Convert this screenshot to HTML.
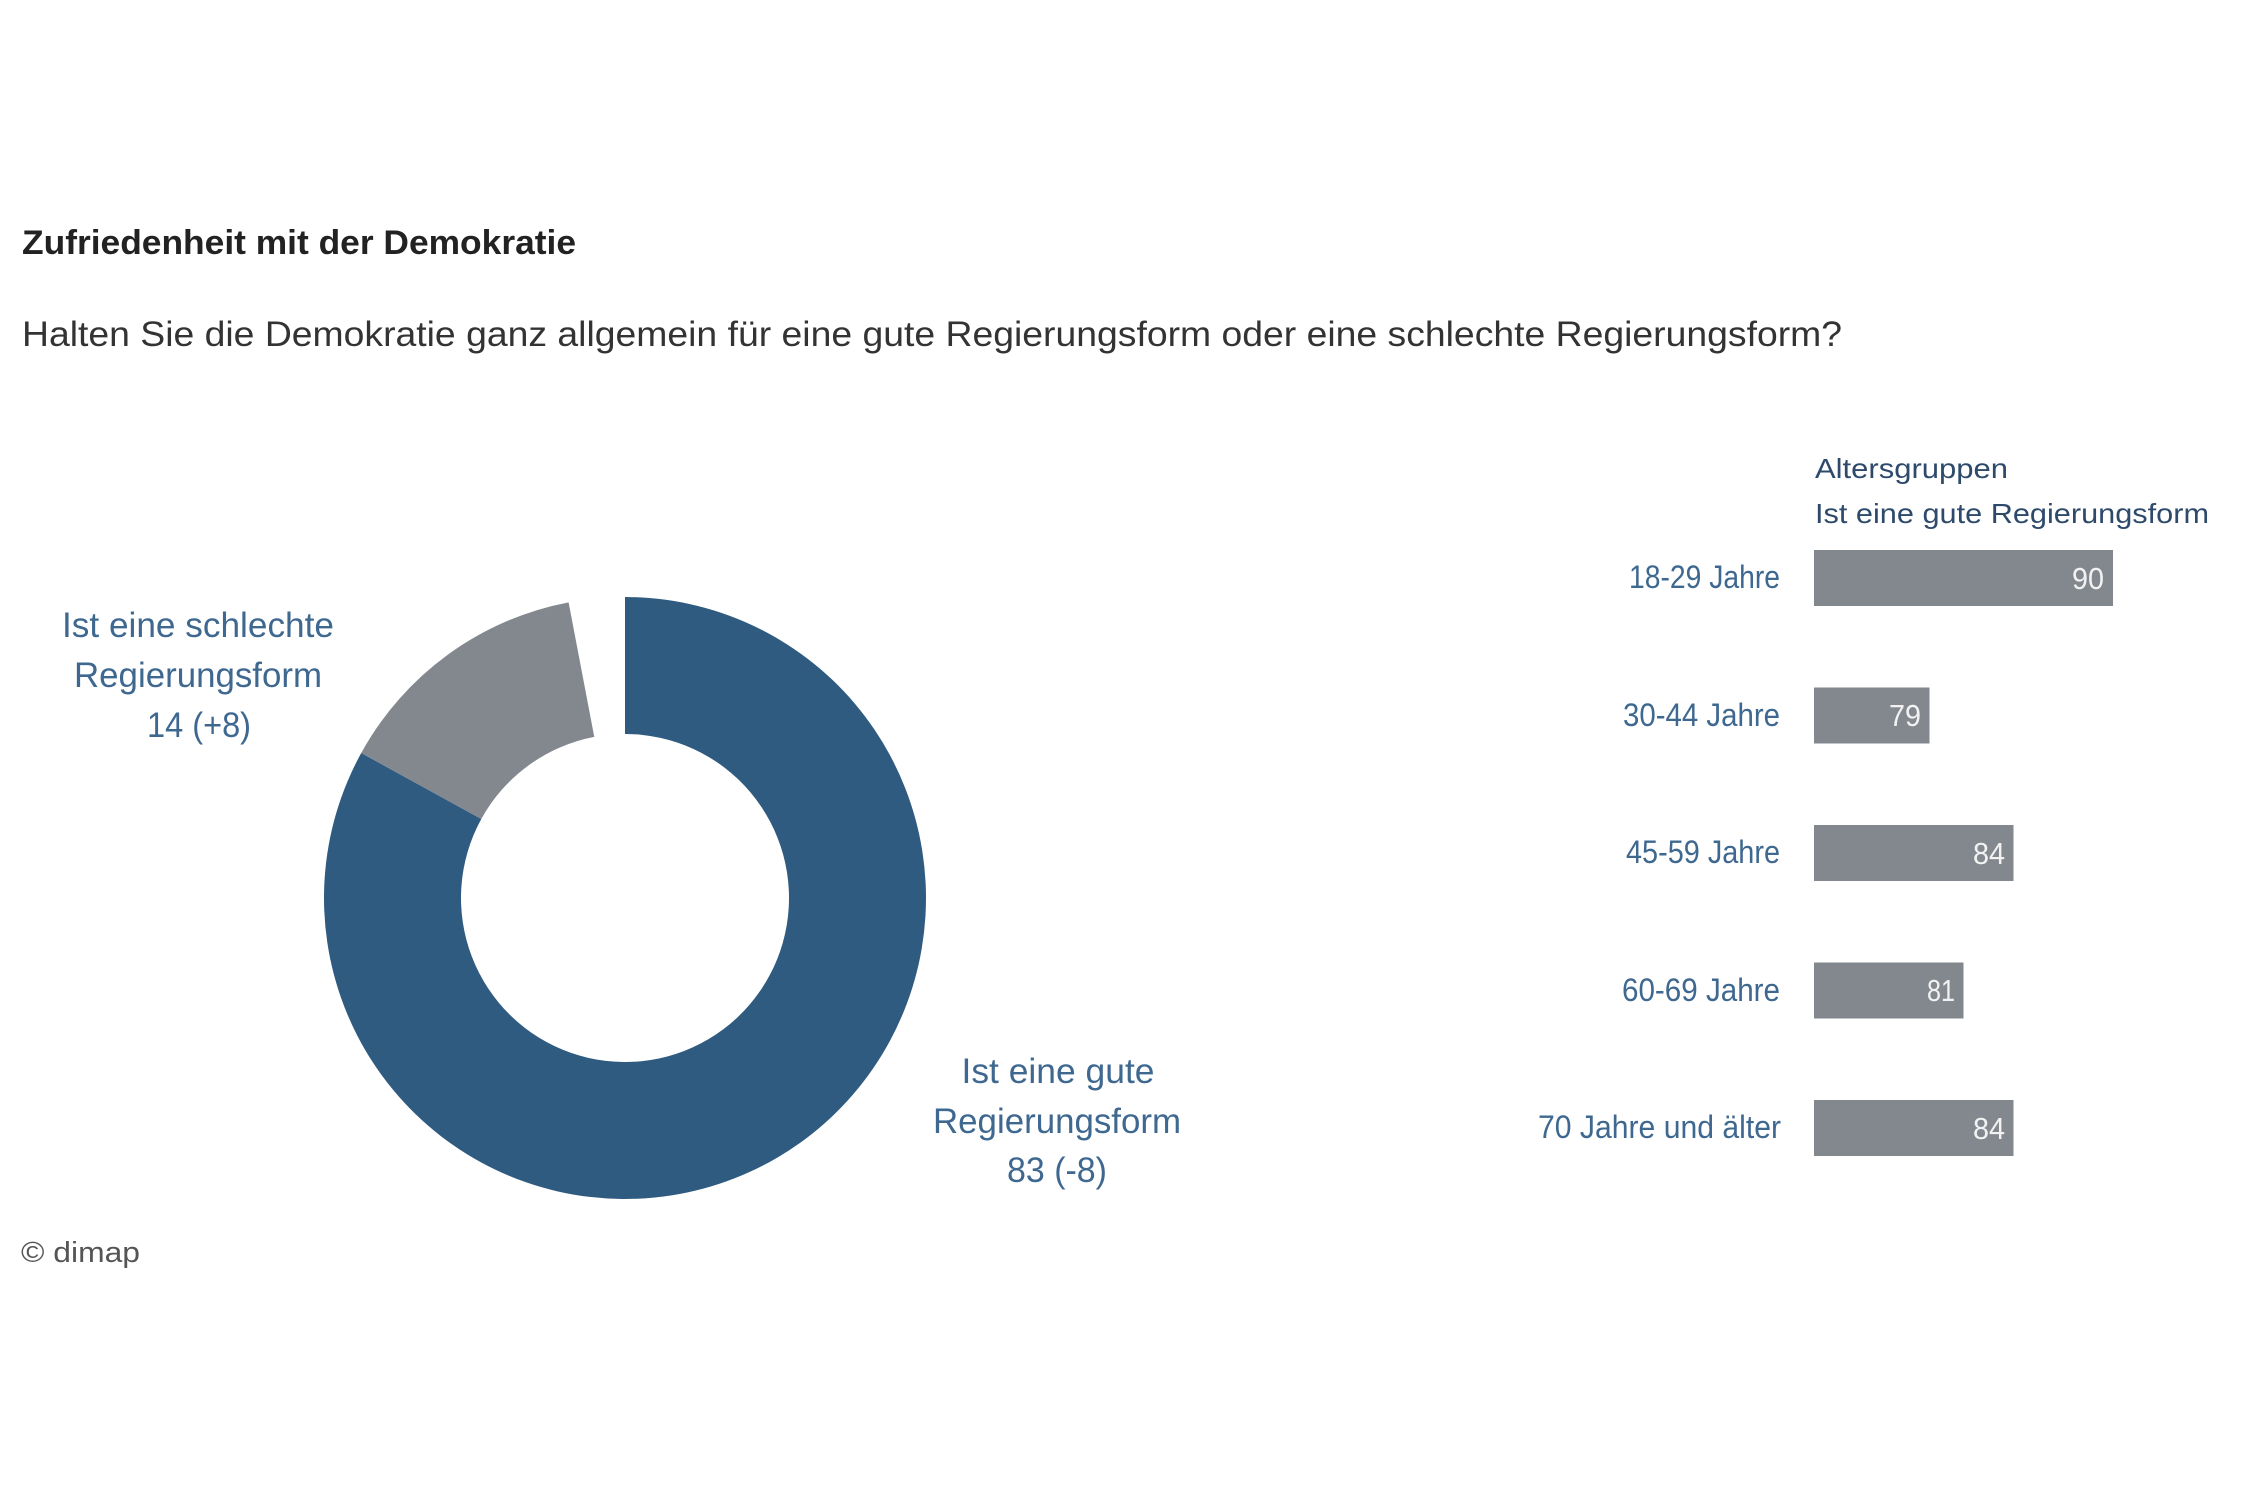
<!DOCTYPE html>
<html>
<head>
<meta charset="utf-8">
<style>
  html,body{margin:0;padding:0;background:#fff;}
  svg{display:block;}
  .fira{font-family:"Liberation Sans",sans-serif;}
</style>
</head>
<body>
<svg width="2250" height="1500" viewBox="0 0 2250 1500" xmlns="http://www.w3.org/2000/svg">
  <rect x="0" y="0" width="2250" height="1500" fill="#ffffff"/>

  <!-- Title -->
  <text x="22" y="254" font-family="Liberation Sans, sans-serif" font-weight="bold" font-size="34" fill="#222222" textLength="554" lengthAdjust="spacingAndGlyphs">Zufriedenheit mit der Demokratie</text>

  <!-- Question -->
  <text x="22" y="346" font-family="Liberation Sans, sans-serif" font-size="35" fill="#333333" textLength="1820" lengthAdjust="spacingAndGlyphs">Halten Sie die Demokratie ganz allgemein für eine gute Regierungsform oder eine schlechte Regierungsform?</text>

  <!-- Donut -->
  <path d="M 625 597 A 301 301 0 1 1 361.23 752.99 L 481.29 818.99 A 164 164 0 1 0 625 734 Z" fill="#2f5b80"/>
  <path d="M 361.23 752.99 A 301 301 0 0 1 568.60 602.33 L 594.27 736.90 A 164 164 0 0 0 481.29 818.99 Z" fill="#83888f"/>

  <!-- Donut labels left -->
  <g class="fira" font-size="35" fill="#3e6890" text-anchor="middle">
    <text x="198" y="637" textLength="272" lengthAdjust="spacingAndGlyphs">Ist eine schlechte</text>
    <text x="198" y="687" textLength="248" lengthAdjust="spacingAndGlyphs">Regierungsform</text>
    <text x="199" y="737" textLength="104" lengthAdjust="spacingAndGlyphs">14 (+8)</text>
  </g>

  <!-- Donut labels right -->
  <g class="fira" font-size="35" fill="#3e6890" text-anchor="middle">
    <text x="1058" y="1083" textLength="193" lengthAdjust="spacingAndGlyphs">Ist eine gute</text>
    <text x="1057" y="1133" textLength="248" lengthAdjust="spacingAndGlyphs">Regierungsform</text>
    <text x="1057" y="1182" textLength="100" lengthAdjust="spacingAndGlyphs">83 (-8)</text>
  </g>

  <!-- Copyright -->
  <text x="21" y="1262" font-family="Liberation Sans, sans-serif" font-size="29" fill="#555555" textLength="119" lengthAdjust="spacingAndGlyphs">© dimap</text>

  <!-- Bar chart header -->
  <g class="fira" font-size="28" fill="#2e4a6b">
    <text x="1815" y="478" textLength="193" lengthAdjust="spacingAndGlyphs">Altersgruppen</text>
    <text x="1815" y="523" textLength="394" lengthAdjust="spacingAndGlyphs">Ist eine gute Regierungsform</text>
  </g>

  <!-- Bars -->
  <g fill="#83888f">
    <rect x="1814" y="550" width="299" height="56"/>
    <rect x="1814" y="687.5" width="115.5" height="56"/>
    <rect x="1814" y="825" width="199.5" height="56"/>
    <rect x="1814" y="962.5" width="149.5" height="56"/>
    <rect x="1814" y="1100" width="199.5" height="56"/>
  </g>

  <!-- Bar category labels -->
  <g class="fira" font-size="32" fill="#3e6890" text-anchor="end">
    <text x="1780" y="588" textLength="151" lengthAdjust="spacingAndGlyphs">18-29 Jahre</text>
    <text x="1780" y="726" textLength="157" lengthAdjust="spacingAndGlyphs">30-44 Jahre</text>
    <text x="1780" y="863" textLength="154" lengthAdjust="spacingAndGlyphs">45-59 Jahre</text>
    <text x="1780" y="1001" textLength="158" lengthAdjust="spacingAndGlyphs">60-69 Jahre</text>
    <text x="1781" y="1138" textLength="243" lengthAdjust="spacingAndGlyphs">70 Jahre und älter</text>
  </g>

  <!-- Bar values -->
  <g class="fira" font-size="31" fill="#f2f2f2" text-anchor="end">
    <text x="2104" y="589" textLength="32" lengthAdjust="spacingAndGlyphs">90</text>
    <text x="1921" y="726" textLength="32" lengthAdjust="spacingAndGlyphs">79</text>
    <text x="2005" y="864" textLength="32" lengthAdjust="spacingAndGlyphs">84</text>
    <text x="1955" y="1001" textLength="28" lengthAdjust="spacingAndGlyphs">81</text>
    <text x="2005" y="1139" textLength="32" lengthAdjust="spacingAndGlyphs">84</text>
  </g>
</svg>
</body>
</html>
